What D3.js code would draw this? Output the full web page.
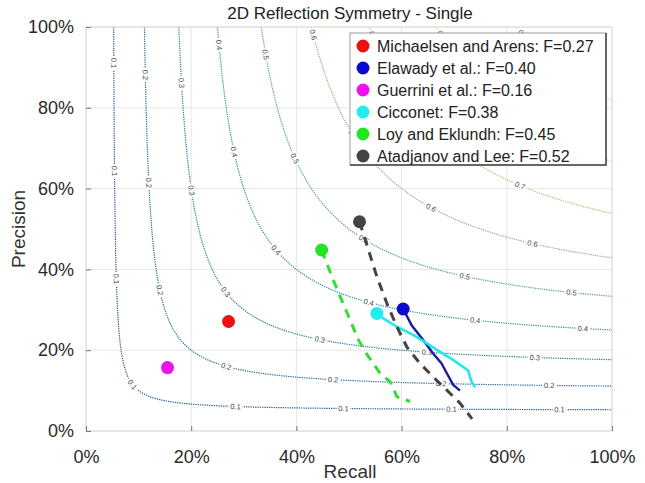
<!DOCTYPE html>
<html><head><meta charset="utf-8">
<script src="https://cdn.jsdelivr.net/npm/d3@7"></script>
<style>body{margin:0;background:#fff;} text{font-family:"Liberation Sans",Arial,Helvetica,sans-serif;}</style>
</head><body><svg id="c" width="645" height="483"></svg>
<script>
// ---------- data ----------
const xTicks = [0, 0.2, 0.4, 0.6, 0.8, 1];
const xTickLabels = ['0%', '20%', '40%', '60%', '80%', '100%'];
const yTicks = [0, 0.2, 0.4, 0.6, 0.8, 1];
const yTickLabels = ['0%', '20%', '40%', '60%', '80%', '100%'];
const contourLevels = [0.1, 0.2, 0.3, 0.4, 0.5, 0.6, 0.7, 0.8, 0.9];
const contourColors = ['#2b5f92', '#2d6f9a', '#2f8298', '#3b9296', '#5ca198', '#9aae8c', '#c6bd7a', '#dccf74', '#eadd7c'];
const contourLabelStart = [36, 48, 56, 18, 28, 8, 10, 10, 10];

const methods = ['Michaelsen and Arens', 'Elawady et al.', 'Guerrini et al.', 'Cicconet', 'Loy and Eklundh', 'Atadjanov and Lee'];
const fScores = ['0.27', '0.40', '0.16', '0.38', '0.45', '0.52'];
const pointRecall = [0.271, 0.603, 0.155, 0.553, 0.448, 0.520];
const pointPrecision = [0.271, 0.302, 0.157, 0.291, 0.448, 0.518];
const methodColors = ['#ee1111', '#0a0ad0', '#ee11ee', '#22eef0', '#22e622', '#444444'];

const elawadyRecall = [0.603, 0.619, 0.641, 0.660, 0.676, 0.686, 0.698, 0.711];
const elawadyPrecision = [0.302, 0.262, 0.225, 0.192, 0.167, 0.143, 0.114, 0.100];
const cicconetRecall = [0.553, 0.565, 0.591, 0.622, 0.648, 0.673, 0.698, 0.727, 0.730, 0.733, 0.740];
const cicconetPrecision = [0.291, 0.279, 0.258, 0.238, 0.217, 0.196, 0.176, 0.149, 0.134, 0.122, 0.108];
const loyRecall = [0.448, 0.470, 0.486, 0.502, 0.518, 0.537, 0.559, 0.578, 0.584, 0.591, 0.616];
const loyPrecision = [0.448, 0.374, 0.324, 0.275, 0.225, 0.184, 0.143, 0.122, 0.106, 0.085, 0.073];
const atadjanovRecall = [0.520, 0.537, 0.553, 0.572, 0.591, 0.610, 0.635, 0.660, 0.686, 0.711, 0.734];
const atadjanovPrecision = [0.518, 0.448, 0.382, 0.316, 0.258, 0.208, 0.167, 0.134, 0.101, 0.069, 0.030];

// ---------- setup ----------
const svg = d3.select('#c');
const W = 645, H = 483;
svg.append('rect').attr('width', W).attr('height', H).attr('fill', '#fff');
const x = d3.scaleLinear().domain([0, 1]).range([86, 612]);
const y = d3.scaleLinear().domain([0, 1]).range([431, 27]);

svg.append('defs').append('clipPath').attr('id', 'clip')
  .append('rect').attr('x', x(0)).attr('y', y(1)).attr('width', x(1) - x(0)).attr('height', y(0) - y(1));

// grid
const grid = svg.append('g');
grid.selectAll('line.v').data(xTicks).join('line')
  .attr('x1', d => x(d)).attr('x2', d => x(d)).attr('y1', y(0)).attr('y2', y(1))
  .attr('stroke', '#e6e6e6').attr('stroke-width', 1);
grid.selectAll('line.h').data(yTicks).join('line')
  .attr('y1', d => y(d)).attr('y2', d => y(d)).attr('x1', x(0)).attr('x2', x(1))
  .attr('stroke', '#e6e6e6').attr('stroke-width', 1);

// contours of F-measure
const cg = svg.append('g').attr('clip-path', 'url(#clip)');
const lineGen = d3.line().x(d => x(d[0])).y(d => y(d[1]));
contourLevels.forEach((f, i) => {
  const tmax = Math.log((2 - f) / f);
  const pts = d3.range(0, 401).map(k => {
    const t = -tmax + 2 * tmax * k / 400;
    return [(f + f * Math.exp(t)) / 2, (f + f * Math.exp(-t)) / 2];
  });
  const p = cg.append('path').datum(pts).attr('d', lineGen)
    .attr('fill', 'none').attr('stroke', contourColors[i]).attr('stroke-width', 1.2)
    .attr('stroke-dasharray', '1.3,1');
  const node = p.node();
  const L = node.getTotalLength();
  for (let s = contourLabelStart[i]; s < L - 8; s += 108) {
    const a = node.getPointAtLength(Math.max(0, s - 2));
    const b = node.getPointAtLength(Math.min(L, s + 2));
    const c = node.getPointAtLength(s);
    let ang = Math.atan2(b.y - a.y, b.x - a.x) * 180 / Math.PI;
    if (ang > 90) ang -= 180;
    if (ang < -90) ang += 180;
    const g = cg.append('g').attr('transform', `translate(${c.x},${c.y}) rotate(${ang})`);
    g.append('rect').attr('x', -7).attr('y', -3.5).attr('width', 14).attr('height', 7).attr('fill', '#fff');
    g.append('text').attr('text-anchor', 'middle').attr('dy', '0.35em')
      .attr('font-size', 7.5).attr('fill', '#444').text(String(f));
  }
});

// PR curves
const curves = [
  {r: elawadyRecall, p: elawadyPrecision, c: '#1a1aa0', dash: null, w: 2.4},
  {r: cicconetRecall, p: cicconetPrecision, c: '#22e6f0', dash: null, w: 2.6},
  {r: loyRecall, p: loyPrecision, c: '#33dd33', dash: '9,7', w: 3},
  {r: atadjanovRecall, p: atadjanovPrecision, c: '#444444', dash: '9,7', w: 3}
];
const pg = svg.append('g').attr('clip-path', 'url(#clip)');
curves.forEach(cv => {
  const pts = cv.r.map((r, k) => [r, cv.p[k]]);
  pg.append('path').datum(pts).attr('d', lineGen).attr('fill', 'none')
    .attr('stroke', cv.c).attr('stroke-width', cv.w)
    .attr('stroke-dasharray', cv.dash).attr('stroke-linejoin', 'round');
});
// points
pg.selectAll('circle').data(methods).join('circle')
  .attr('cx', (d, i) => x(pointRecall[i])).attr('cy', (d, i) => y(pointPrecision[i]))
  .attr('r', 6.5).attr('fill', (d, i) => methodColors[i]);

// box
svg.append('rect').attr('x', x(0)).attr('y', y(1)).attr('width', x(1) - x(0)).attr('height', y(0) - y(1))
  .attr('fill', 'none').attr('stroke', '#dcdcdc').attr('stroke-width', 1);

// axes
const xAxis = d3.axisBottom(x).tickValues(xTicks).tickFormat((d, i) => xTickLabels[i]).tickSizeInner(-5).tickSizeOuter(0).tickPadding(19);
const gx = svg.append('g').attr('transform', `translate(0,${y(0)})`).call(xAxis);
gx.select('.domain').remove();
gx.selectAll('.tick line').attr('stroke', '#777');
gx.selectAll('.tick text').attr('font-size', 18).attr('fill', '#2a2a2a').attr('font-family', '"Liberation Sans",Arial,sans-serif');

const yAxis = d3.axisLeft(y).tickValues(yTicks).tickFormat((d, i) => yTickLabels[i]).tickSizeInner(-5).tickSizeOuter(0).tickPadding(12);
const gy = svg.append('g').attr('transform', `translate(${x(0)},0)`).call(yAxis);
gy.select('.domain').remove();
gy.selectAll('.tick line').attr('stroke', '#777');
gy.selectAll('.tick text').attr('font-size', 18).attr('fill', '#2a2a2a').attr('font-family', '"Liberation Sans",Arial,sans-serif');

// titles
svg.append('text').attr('x', 350).attr('y', 19).attr('text-anchor', 'middle')
  .attr('font-size', 17).attr('fill', '#222').text('2D Reflection Symmetry - Single');
svg.append('text').attr('x', 350).attr('y', 478).attr('text-anchor', 'middle')
  .attr('font-size', 19).attr('fill', '#333').text('Recall');
svg.append('text').attr('transform', `translate(25,229) rotate(-90)`).attr('text-anchor', 'middle')
  .attr('font-size', 19).attr('fill', '#333').text('Precision');

// legend
const lg = svg.append('g');
lg.append('rect').attr('x', 350).attr('y', 33).attr('width', 256).attr('height', 132)
  .attr('fill', '#fff').attr('stroke', '#999').attr('stroke-width', 1);
lg.append('polyline').attr('points', '350,165 606,165 606,33').attr('fill', 'none').attr('stroke', '#444').attr('stroke-width', 1.5);
const rows = lg.selectAll('g.row').data(methods).join('g')
  .attr('transform', (d, i) => `translate(0,${46 + i * 22})`);
rows.append('circle').attr('cx', 363).attr('cy', 0).attr('r', 6.5).attr('fill', (d, i) => methodColors[i]);
rows.append('text').attr('x', 377).attr('y', 0).attr('dy', '0.36em').attr('font-size', 16).attr('fill', '#222')
  .text((d, i) => `${d}: F=${fScores[i]}`);
</script></body></html>
